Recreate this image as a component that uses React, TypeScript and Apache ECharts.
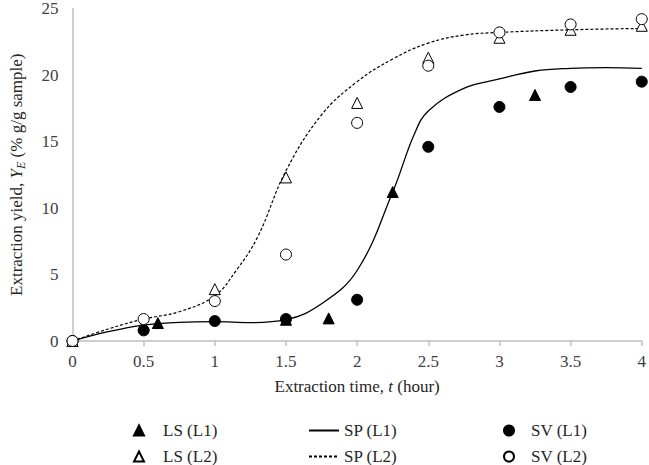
import React, { useEffect, useRef } from "react";
import * as echarts from "echarts";

// Measured points (time in hours, yield in % g/g sample)
const lsL1X = [0, 0.6, 1.5, 1.8, 2.25, 3.25];
const lsL1Y = [0, 1.35, 1.6, 1.7, 11.2, 18.5];
const lsL2X = [0, 0.5, 1, 1.5, 2, 2.5, 3, 3.5, 4];
const lsL2Y = [0, 1.2, 3.9, 12.3, 17.9, 21.3, 22.8, 23.4, 23.7];
const svX = [0, 0.5, 1, 1.5, 2, 2.5, 3, 3.5, 4];
const svL1Y = [0, 0.8, 1.5, 1.65, 3.1, 14.6, 17.6, 19.1, 19.5];
const svL2Y = [0, 1.65, 3.0, 6.5, 16.4, 20.7, 23.2, 23.8, 24.2];

// Model curves
const spL1X = [0, 0.25, 0.5, 0.75, 1, 1.25, 1.5, 1.75, 2, 2.25, 2.4, 2.5, 2.75, 3, 3.25, 3.5, 3.75, 4];
const spL1Y = [0, 0.7, 1.2, 1.4, 1.45, 1.38, 1.6, 2.8, 5.3, 11.2, 15.5, 17.3, 19.0, 19.7, 20.3, 20.5, 20.55, 20.5];
const spL2X = [0, 0.25, 0.5, 0.75, 1, 1.15, 1.3, 1.5, 1.75, 2, 2.25, 2.5, 2.75, 3, 3.5, 4];
const spL2Y = [0, 0.9, 1.65, 2.2, 3.4, 5.3, 7.8, 12.8, 17.0, 19.5, 21.2, 22.4, 23.0, 23.2, 23.4, 23.5];

const xTicks = { min: 0, max: 4, interval: 0.5 };
const yTicks = { min: 0, max: 25, interval: 5 };

const zip = (xs: number[], ys: number[]) => xs.map((x, i) => [x, ys[i]]);

const FONT = "Liberation Serif";

export default function App() {
  const ref = useRef<HTMLDivElement>(null);
  useEffect(() => {
    if (!ref.current) return;
    const chart = echarts.init(ref.current, undefined, { renderer: "svg" });
    const axisGray = "#bfbfbf";
    const labelStyle = { fontFamily: FONT, fontSize: 17, color: "#404040" };
    const legendText = { fontFamily: FONT, fontSize: 17, color: "#262626", lineHeight: 16 };
    const baseLegend = {
      orient: "vertical",
      top: 422,
      padding: 0,
      itemHeight: 10,
      itemGap: 9,
    };
    chart.setOption({
      animation: false,
      backgroundColor: "#ffffff",
      textStyle: { fontFamily: FONT },
      grid: { left: 66, right: 7, top: 8, bottom: 124 },
      xAxis: {
        type: "value",
        min: xTicks.min,
        max: xTicks.max,
        interval: xTicks.interval,
        axisLine: { show: true, lineStyle: { color: axisGray, width: 1.5 } },
        axisTick: { show: true, length: 5, lineStyle: { color: axisGray, width: 1.5 } },
        splitLine: { show: false },
        axisLabel: { ...labelStyle, margin: 12 },
        name: "{n|Extraction time, }{i|t}{n| (hour)}",
        nameLocation: "middle",
        nameGap: 37,
        nameTextStyle: {
          fontFamily: FONT,
          fontSize: 17,
          rich: {
            n: { fontFamily: FONT, fontSize: 17, color: "#262626" },
            i: { fontFamily: FONT, fontSize: 17, color: "#262626", fontStyle: "italic" },
          },
        },
      },
      yAxis: {
        type: "value",
        min: yTicks.min,
        max: yTicks.max,
        interval: yTicks.interval,
        axisLine: { show: true, lineStyle: { color: axisGray, width: 1.5 } },
        axisTick: { show: false },
        splitLine: { show: false },
        axisLabel: { ...labelStyle, margin: 14 },
        name: "{n|Extraction yield, }{i|Y}{s|E}{n| (% g/g sample)}",
        nameLocation: "middle",
        nameGap: 46,
        nameRotate: 90,
        nameTextStyle: {
          fontFamily: FONT,
          fontSize: 17,
          rich: {
            n: { fontFamily: FONT, fontSize: 17, color: "#262626", lineHeight: 20 },
            i: { fontFamily: FONT, fontSize: 17, color: "#262626", fontStyle: "italic", lineHeight: 20 },
            s: { fontFamily: FONT, fontSize: 12, color: "#262626", fontStyle: "italic", verticalAlign: "bottom", lineHeight: 20, padding: [6, 0, 0, 0] },
          },
        },
      },
      legend: [
        {
          ...baseLegend,
          data: ["LS (L1)", "LS (L2)"],
          left: 133,
          itemWidth: 10,
          textStyle: { ...legendText, padding: [0, 0, 0, 14] },
        },
        {
          ...baseLegend,
          data: ["SP (L1)", "SP (L2)"],
          left: 308,
          itemWidth: 30,
          itemStyle: { opacity: 0 },
          textStyle: { ...legendText },
        },
        {
          ...baseLegend,
          data: ["SV (L1)", "SV (L2)"],
          left: 503,
          itemWidth: 10,
          textStyle: { ...legendText, padding: [0, 0, 0, 12] },
        },
      ],
      series: [
        {
          name: "SP (L1)",
          type: "line",
          data: zip(spL1X, spL1Y),
          smooth: 0.4,
          symbol: "none",
          lineStyle: { color: "#000", width: 1.3, type: "solid" },
          itemStyle: { color: "#000" },
          z: 2,
        },
        {
          name: "SP (L2)",
          type: "line",
          data: zip(spL2X, spL2Y),
          smooth: 0.4,
          symbol: "none",
          lineStyle: { color: "#000", width: 1.2, type: [3, 2] },
          itemStyle: { color: "#000" },
          z: 2,
        },
        {
          name: "LS (L1)",
          type: "scatter",
          data: zip(lsL1X, lsL1Y),
          symbol: "triangle",
          symbolSize: 11,
          itemStyle: { color: "#000", borderColor: "#000", borderWidth: 1, opacity: 1 },
          z: 3,
        },
        {
          name: "LS (L2)",
          type: "scatter",
          data: zip(lsL2X, lsL2Y),
          symbol: "triangle",
          symbolSize: 11,
          itemStyle: { color: "#fff", borderColor: "#000", borderWidth: 1, opacity: 1 },
          z: 3,
        },
        {
          name: "SV (L1)",
          type: "scatter",
          data: zip(svX, svL1Y),
          symbol: "circle",
          symbolSize: 11,
          itemStyle: { color: "#000", borderColor: "#000", borderWidth: 1, opacity: 1 },
          z: 4,
        },
        {
          name: "SV (L2)",
          type: "scatter",
          data: zip(svX, svL2Y),
          symbol: "circle",
          symbolSize: 11,
          itemStyle: { color: "#fff", borderColor: "#000", borderWidth: 1, opacity: 1 },
          z: 4,
        },
      ],
    });
    return () => chart.dispose();
  }, []);
  return (
    <div
      ref={ref}
      style={{ position: "fixed", left: 0, top: 0, width: 649, height: 465, background: "#fff" }}
    />
  );
}
